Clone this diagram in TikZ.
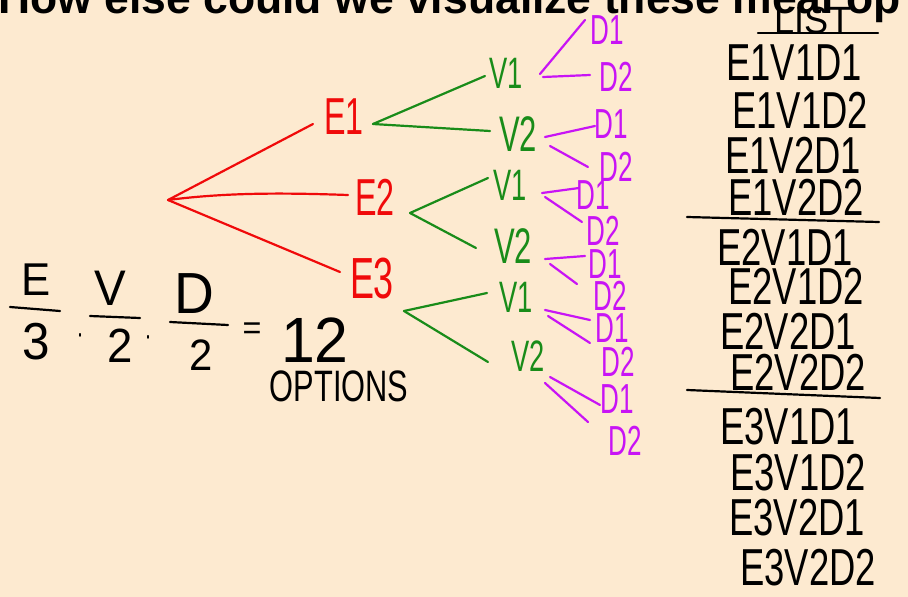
\documentclass[tikz,border=0pt]{standalone}
\usepackage{fontspec}
\setmainfont{Liberation Sans}
\newfontfamily\handT[FakeStretch=0.62]{Liberation Sans}
\newfontfamily\handL[FakeStretch=0.7]{Liberation Sans}
\newfontfamily\handN[FakeStretch=0.95]{Liberation Sans}
\newfontfamily\titlef{Liberation Sans}
\usetikzlibrary{calc}
\definecolor{bgpeach}{RGB}{253,234,208}
\definecolor{ered}{RGB}{240,10,10}
\definecolor{vgreen}{RGB}{25,140,25}
\definecolor{dpurple}{RGB}{200,20,245}
\begin{document}
\begin{tikzpicture}[x=1pt,y=-1pt,
  ebox/.style={text=ered, font=\handT\fontsize{52}{52}\selectfont, inner sep=0pt, text height=37pt, text depth=0pt},
  vbox/.style={text=vgreen, font=\handT\fontsize{44}{44}\selectfont, inner sep=0pt, text height=31.5pt, text depth=0pt},
  dbox/.style={text=dpurple, font=\handT\fontsize{42}{42}\selectfont, inner sep=0pt, text height=30pt, text depth=0pt},
  lbox/.style={text=black, font=\handL\fontsize{52}{52}\selectfont, inner sep=0pt, text height=37pt, text depth=0pt},
  fbox/.style={text=black, font=\handN\fontsize{48}{48}\selectfont, inner sep=0pt, text height=34pt, text depth=0pt},
  redline/.style={draw=ered, line width=2.2pt, line cap=round},
  greenline/.style={draw=vgreen, line width=2.2pt, line cap=round},
  purpleline/.style={draw=dpurple, line width=2.2pt, line cap=round},
  inkline/.style={draw=black, line width=2.2pt, line cap=round}]
\clip (0,0) rectangle (908,597);
\useasboundingbox (0,0) rectangle (908,597);
\fill[bgpeach] (0,0) rectangle (908,597);

% title (cut off at the top)
\node[anchor=base west, inner sep=0pt, font=\titlef\bfseries\fontsize{44.5}{50}\selectfont] (title) at (-2,13) {How else could we visualize these meal op};

% tree
\coordinate (root) at (168,200);
\node[ebox] (E1) at (344,116) {E1};
\node[ebox] (E2) at (375,197) {E2};
\node[ebox, font=\handT\fontsize{58}{58}\selectfont, text height=41pt] (E3) at (372,278) {E3};

\node[vbox] (V1a) at (506,73) {V1};
\node[vbox, font=\handT\fontsize{50}{50}\selectfont, text height=36pt] (V2a) at (518,133) {V2};
\node[vbox] (V1b) at (510,185) {V1};
\node[vbox, font=\handT\fontsize{50}{50}\selectfont, text height=36pt] (V2b) at (513,245) {V2};
\node[vbox] (V1c) at (516,297) {V1};
\node[vbox] (V2c) at (528,356) {V2};

\node[dbox] (D1a) at (607,29) {D1};
\node[dbox] (D2a) at (616,76) {D2};
\node[dbox] (D1b) at (611,123) {D1};
\node[dbox] (D2b) at (616,166) {D2};
\node[dbox] (D1c) at (593,194) {D1};
\node[dbox] (D2c) at (603,230) {D2};
\node[dbox] (D1d) at (605,263) {D1};
\node[dbox] (D2d) at (610,295) {D2};
\node[dbox] (D1e) at (612,327) {D1};
\node[dbox] (D2e) at (618,361) {D2};
\node[dbox] (D1f) at (617,398) {D1};
\node[dbox] (D2f) at (625,440) {D2};

\draw[redline] (root) -- ([shift={(-31,8)}]E1.center);
\draw[redline] (root) .. controls (230,192) and (290,193) .. ([shift={(-27,-2)}]E2.center);
\draw[redline] (root) -- ([shift={(-32,-6)}]E3.center);

\draw[greenline] ([shift={(29,8)}]E1.center) -- ([shift={(-21,3)}]V1a.center);
\draw[greenline] ([shift={(29,8)}]E1.center) -- ([shift={(-28,-2)}]V2a.center);
\draw[greenline] ([shift={(35,16)}]E2.center) -- ([shift={(-22,-7)}]V1b.center);
\draw[greenline] ([shift={(35,16)}]E2.center) -- ([shift={(-37,3)}]V2b.center);
\draw[greenline] ([shift={(32,33)}]E3.center) -- ([shift={(-29,-4)}]V1c.center);
\draw[greenline] ([shift={(32,33)}]E3.center) -- ([shift={(-40,6)}]V2c.center);

\draw[purpleline] ([shift={(34,1)}]V1a.center) -- ([shift={(-22,-9)}]D1a.center);
\draw[purpleline] ([shift={(37,4)}]V1a.center) -- ([shift={(-26,-1)}]D2a.center);
\draw[purpleline] ([shift={(27,4)}]V2a.center) -- ([shift={(-16,3)}]D1b.center);
\draw[purpleline] ([shift={(32,13)}]V2a.center) -- ([shift={(-28,1)}]D2b.center);
\draw[purpleline] ([shift={(32,8)}]V1b.center) -- ([shift={(-14,-6)}]D1c.center);
\draw[purpleline] ([shift={(35,12)}]V1b.center) -- ([shift={(-21,-8)}]D2c.center);
\draw[purpleline] ([shift={(32,14)}]V2b.center) -- ([shift={(-20,-7)}]D1d.center);
\draw[purpleline] ([shift={(37,19)}]V2b.center) -- ([shift={(-33,-11)}]D2d.center);
\draw[purpleline] ([shift={(29,13)}]V1c.center) -- ([shift={(-22,-7)}]D1e.center);
\draw[purpleline] ([shift={(32,19)}]V1c.center) -- ([shift={(-28,-18)}]D2e.center);
\draw[purpleline] ([shift={(22,21)}]V2c.center) -- ([shift={(-17,7)}]D1f.center);
\draw[purpleline] ([shift={(17,27)}]V2c.center) -- ([shift={(-37,-18)}]D2f.center);

% formula
\node[fbox, font=\handN\fontsize{46}{46}\selectfont, text height=33pt] (fE) at (36,279) {E};
\node[fbox, font=\handN\fontsize{52}{52}\selectfont, text height=37pt] (f3) at (36,341) {3};
\node[fbox, font=\handN\fontsize{50}{50}\selectfont, text height=36pt] (fV) at (110,287) {V};
\node[fbox] (f2a) at (120,345) {2};
\node[fbox, font=\handN\fontsize{58}{58}\selectfont, text height=42pt] (fD) at (194,292) {D};
\node[fbox, font=\handN\fontsize{44}{44}\selectfont, text height=31pt] (f2b) at (201,355) {2};
\node[fbox, font=\handL\fontsize{30}{30}\selectfont, text height=10pt] (fdot1) at (80,338) {·};
\node[fbox, font=\handL\fontsize{30}{30}\selectfont, text height=10pt] (fdot2) at (148,340) {·};
\node[fbox, font=\handN\fontsize{34}{34}\selectfont, text height=12pt] (feq) at (252,333) {=};
\node[fbox, font=\handN\fontsize{64}{64}\selectfont, text height=46pt] (f12) at (315,339) {12};
\node[fbox, font=\handL\fontsize{44}{44}\selectfont, text height=31.5pt] (fopt) at (339,386) {OPTIONS};
\draw[inkline] (10,307) -- (60,311);
\draw[inkline] (90,316) -- (140,318);
\draw[inkline] (170,322) -- (228,325);

% list
\node[lbox, font=\handN\fontsize{38}{38}\selectfont, text height=27pt] (list) at (813,20) {LIST};
\draw[inkline] (758,33) -- (878,33);
\node[lbox] (l1) at (794,62) {E1V1D1};
\node[lbox] (l2) at (800,110) {E1V1D2};
\node[lbox] (l3) at (793,155) {E1V2D1};
\node[lbox] (l4) at (796,197) {E1V2D2};
\draw[inkline] (687,217) -- (879,222);
\node[lbox] (l5) at (785,247) {E2V1D1};
\node[lbox] (l6) at (796,286) {E2V1D2};
\node[lbox] (l7) at (788,331) {E2V2D1};
\node[lbox] (l8) at (798,372) {E2V2D2};
\draw[inkline] (687,390) -- (880,398);
\node[lbox] (l9) at (788,426) {E3V1D1};
\node[lbox] (l10) at (798,472) {E3V1D2};
\node[lbox] (l11) at (797,517) {E3V2D1};
\node[lbox] (l12) at (808,567) {E3V2D2};
\end{tikzpicture}
\end{document}
